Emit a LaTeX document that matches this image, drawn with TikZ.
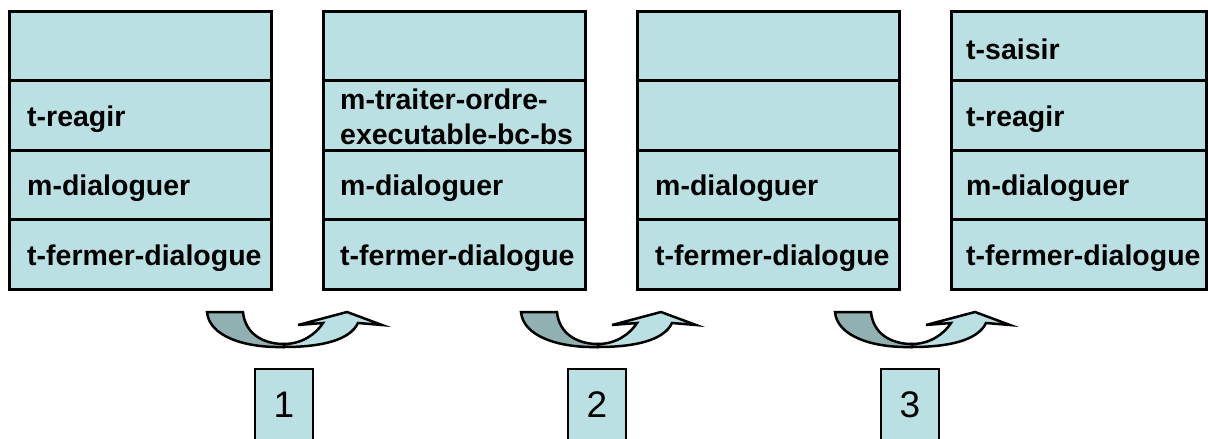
\documentclass[tikz,border=0pt]{standalone}
\usepackage{fontspec}
\setmainfont{Liberation Sans}
\definecolor{boxfill}{HTML}{BBE0E3}
\definecolor{shadefill}{HTML}{90B0B2}
\begin{document}
\begin{tikzpicture}[x=1pt,y=-1pt,
  cell/.style={draw, line width=3pt, fill=boxfill, minimum width=262pt, minimum height=69.5pt, anchor=north west, inner sep=0pt, outer sep=0pt},
  lbl/.style={anchor=west, inner sep=0pt, yshift=-3.5pt, font=\fontsize{28.5}{34.5}\selectfont\bfseries, align=left},
  numbox/.style={draw, line width=2pt, fill=boxfill, minimum width=58pt, minimum height=72pt, inner sep=0pt, font=\fontsize{37}{40}\selectfont},
  arrowpart/.style={draw, line width=2.5pt, line join=miter}]
\useasboundingbox (0,0) rectangle (1208,439);

% stacks
\foreach \i/\x/\w in {1/9/262,2/323/262,3/637/262,4/951/255.5}{
  \foreach \j in {1,...,4}{
    \node[cell, minimum width=\w pt] (s\i r\j) at (\x,{11+69.5*(\j-1)}) {};
  }
}

% labels
\node[lbl] (a2) at ([xshift=18pt]s1r2.west) {t-reagir};
\node[lbl] (a3) at ([xshift=18pt]s1r3.west) {m-dialoguer};
\node[lbl] (a4) at ([xshift=18pt]s1r4.west) {t-fermer-dialogue};

\node[lbl, yshift=2pt] (b2) at ([xshift=17pt]s2r2.west) {m-traiter-ordre-\\executable-bc-bs};
\node[lbl] (b3) at ([xshift=17pt]s2r3.west) {m-dialoguer};
\node[lbl] (b4) at ([xshift=17pt]s2r4.west) {t-fermer-dialogue};

\node[lbl] (c3) at ([xshift=18pt]s3r3.west) {m-dialoguer};
\node[lbl] (c4) at ([xshift=18pt]s3r4.west) {t-fermer-dialogue};

\node[lbl] (d1) at ([xshift=15pt]s4r1.west) {t-saisir};
\node[lbl] (d2) at ([xshift=15pt]s4r2.west) {t-reagir};
\node[lbl] (d3) at ([xshift=15pt]s4r3.west) {m-dialoguer};
\node[lbl] (d4) at ([xshift=15pt]s4r4.west) {t-fermer-dialogue};

% curved arrows
\foreach \dx in {0,314,628}{
  \begin{scope}[xshift=\dx pt]
    \path[arrowpart, fill=boxfill] (284,344) .. controls (302,344) and (316,334) .. (323,323)
      -- (298,325) -- (347,312) -- (382,325) -- (358,323)
      .. controls (350,340) and (322,347) .. (284,347) -- cycle;
    \path[arrowpart, fill=shadefill] (207,312) -- (243,312)
      .. controls (245,333) and (262,344) .. (284,344) -- (284,347)
      .. controls (244,348) and (209,336) .. (207,312) -- cycle;
  \end{scope}
}

% number boxes
\node[numbox] (n1) at (284,405) {1};
\node[numbox] (n2) at (597,405) {2};
\node[numbox] (n3) at (910,405) {3};
\end{tikzpicture}
\end{document}
